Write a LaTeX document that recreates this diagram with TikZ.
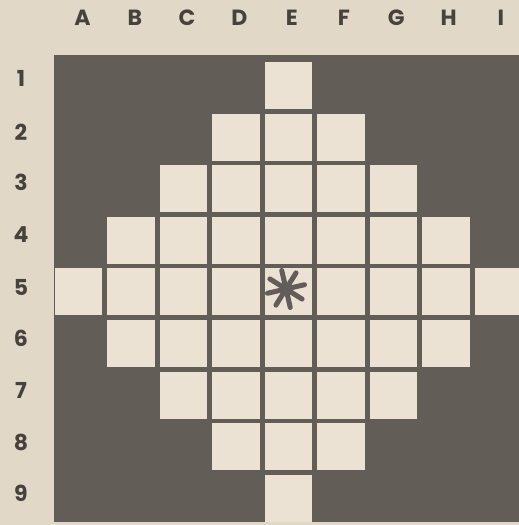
\documentclass[tikz,border=0pt]{standalone}
\usepackage{fontspec}
\setmainfont{Poppins}
\definecolor{paper}{RGB}{226,216,199}
\definecolor{cellc}{RGB}{236,226,212}
\definecolor{board}{RGB}{98,93,87}
\definecolor{ink}{RGB}{72,66,62}
\definecolor{starc}{RGB}{98,93,90}
\begin{document}
\begin{tikzpicture}[x=1pt,y=-1pt,
  lab/.style={font=\fontsize{22}{22}\selectfont\bfseries, text=ink, inner sep=0pt},
  sq/.style={fill=cellc},
  spoke/.style={draw=starc, line width=5pt, line cap=round}]
\fill[paper] (0,0) rectangle (519,525);
\useasboundingbox (0,0) rectangle (519,525);
\fill[board] (54,55) rectangle (519,522);
\foreach \r/\a/\b in {1/5/5, 2/4/6, 3/3/7, 4/2/8, 5/1/9, 6/2/8, 7/3/7, 8/4/6, 9/5/5} {
  \foreach \c in {\a,...,\b} {
    \fill[sq] ({78.5+52.5*(\c-1)-23.75}, {85.5+51.6*(\r-1)-23.5}) rectangle ++(47.5,47);
  }
}
\foreach \L [count=\i] in {A,B,C,D,E,F,G,H,I} {
  \node[lab] (col\i) at ({82.5+52.3*(\i-1)}, 18) {\L};
}
\foreach \n/\y in {1/78,2/132,3/182,4/235,5/287,6/338,7/390,8/442,9/493} {
  \node[lab] (row\n) at (21, \y) {\n};
}
\coordinate (ctr) at (286,289);
\foreach \ang in {-13,-58,-103,-148} {
  \draw[spoke] ([shift={(\ang:19)}]ctr) -- ([shift={(\ang+180:19)}]ctr);
}
\end{tikzpicture}
\end{document}
